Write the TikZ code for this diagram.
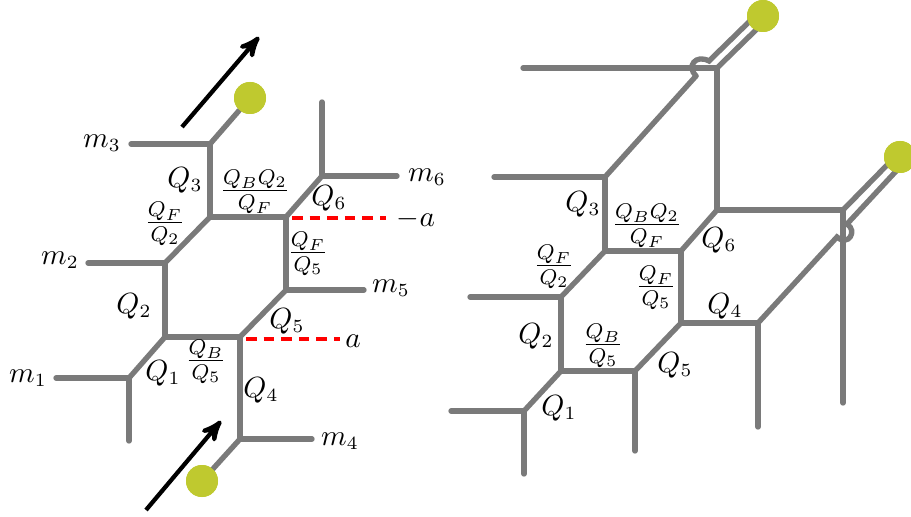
\documentclass[tikz,border=0pt]{standalone}
\usepackage{amsmath, amssymb}
\usepackage{tikz}
\usetikzlibrary{arrows}
\usepackage{xcolor}
\definecolor{branegray}{HTML}{7A7A7A}
\definecolor{ballgreen}{HTML}{BFC92F}
\tikzstyle{brane}=[line width=2pt,color=branegray,line cap=round]
\tikzstyle{cut}=[line width=1.4pt,color=red,dash pattern=on 4pt off 2.6pt]
\tikzstyle{motion}=[line width=1.6pt,black,-stealth']
\tikzstyle{ball}=[circle,fill=ballgreen,inner sep=0pt,minimum size=12pt]
\tikzstyle{lab}=[inner sep=0pt,font=\fontsize{10.5}{12}\selectfont]
\tikzstyle{fraclab}=[inner sep=0pt,font=\large]
\newcommand{\Qfrac}[2]{$\frac{#1}{#2}$}

\begin{document}
\begin{tikzpicture}[x=0.375pt,y=-0.375pt]
	\useasboundingbox (0,0) rectangle (911,517);
	% left web
	\coordinate (Lm1) at (56,378);
	\coordinate (La) at (129,378);
	\coordinate (Lad) at (129,441);
	\coordinate (Lb) at (165,337);
	\coordinate (Lc) at (165,263);
	\coordinate (Lm2) at (88,263);
	\coordinate (Ld) at (210,217);
	\coordinate (Le) at (210,144);
	\coordinate (Lm3) at (131,144);
	\coordinate (Lf) at (286,217);
	\coordinate (Lg) at (322,176);
	\coordinate (Lgu) at (322,102);
	\coordinate (Lm6) at (397,176);
	\coordinate (Lh) at (286,290);
	\coordinate (Lm5) at (364,290);
	\coordinate (Li) at (240,337);
	\coordinate (Lj) at (240,439);
	\coordinate (Lm4) at (312,439);
	\node[ball] (LballT) at (250,98) {};
	\node[ball] (LballB) at (202,481) {};
	\draw[brane] (Lm1) -- (La);
	\draw[brane] (Lad) -- (La);
	\draw[brane] (La) -- (Lb);
	\draw[brane] (Lb) -- (Lc);
	\draw[brane] (Lm2) -- (Lc);
	\draw[brane] (Lc) -- (Ld);
	\draw[brane] (Ld) -- (Le);
	\draw[brane] (Lm3) -- (Le);
	\draw[brane] (Le) -- (LballT);
	\draw[brane] (Ld) -- (Lf);
	\draw[brane] (Lf) -- (Lg);
	\draw[brane] (Lg) -- (Lgu);
	\draw[brane] (Lg) -- (Lm6);
	\draw[brane] (Lf) -- (Lh);
	\draw[brane] (Lh) -- (Lm5);
	\draw[brane] (Lh) -- (Li);
	\draw[brane] (Li) -- (Lb);
	\draw[brane] (Li) -- (Lj);
	\draw[brane] (Lj) -- (Lm4);
	\draw[brane] (Lj) -- (LballB);
	\node[ball] at (LballT) {};
	\node[ball] at (LballB) {};
	% mass cuts
	\coordinate (Lcut1) at (246,339);
	\coordinate (Lcut1e) at (340,339);
	\coordinate (Lcut2) at (292,218);
	\coordinate (Lcut2e) at (386,218);
	\draw[cut] (Lcut1) -- (Lcut1e);
	\draw[cut] (Lcut2) -- (Lcut2e);
	% arrows
	\coordinate (ArrTa) at (182,127);
	\coordinate (ArrTb) at (259,37);
	\coordinate (ArrBa) at (146,510);
	\coordinate (ArrBb) at (221,421);
	\draw[motion] (ArrTa) -- (ArrTb);
	\draw[motion] (ArrBa) -- (ArrBb);
	% left labels
	\node[lab] (m1) at (28,378) {$m_1$};
	\node[lab] (m2) at (60,260) {$m_2$};
	\node[lab] (m3) at (102,143) {$m_3$};
	\node[lab] (m4) at (340,441) {$m_4$};
	\node[lab] (m5) at (391,288) {$m_5$};
	\node[lab] (m6) at (427,177) {$m_6$};
	\node[lab] (ma) at (416,219) {$-a$};
	\node[lab] (pa) at (353,341) {$a$};
	\node[lab] (LQ3) at (185,180) {$Q_3$};
	\node[lab] (LQ2) at (134,306) {$Q_2$};
	\node[lab] (LQ1) at (163,373) {$Q_1$};
	\node[lab] (LQ4) at (261,390) {$Q_4$};
	\node[lab] (LQ5) at (287,321) {$Q_5$};
	\node[lab] (LQ6) at (329,198) {$Q_6$};
	\node[fraclab] (LFa) at (165,224) {\Qfrac{Q_F}{Q_2}};
	\node[fraclab] (LFb) at (255,192) {\Qfrac{Q_BQ_2}{Q_F}};
	\node[fraclab] (LFc) at (308,254) {\Qfrac{Q_F}{Q_5}};
	\node[fraclab] (LFd) at (206,362) {\Qfrac{Q_B}{Q_5}};
	% right web
	\coordinate (Rm1) at (451,411);
	\coordinate (Ra) at (524,411);
	\coordinate (Rad) at (524,474);
	\coordinate (Rb) at (561,371);
	\coordinate (Rc) at (561,297);
	\coordinate (Rm2) at (470,297);
	\coordinate (Rd) at (605,251);
	\coordinate (Re) at (605,177);
	\coordinate (Rm3) at (494,177);
	\coordinate (Rf) at (681,251);
	\coordinate (Rg) at (717,210);
	\coordinate (Rk) at (717,68);
	\coordinate (Rm6) at (523,68);
	\coordinate (Rn) at (843,210);
	\coordinate (Rnd) at (843,403);
	\coordinate (Rh) at (681,323);
	\coordinate (Ri) at (635,371);
	\coordinate (Rid) at (635,451);
	\coordinate (Rj) at (758,323);
	\coordinate (Rjd) at (758,427);
	\coordinate (RjumpTa) at (696,76);
	\coordinate (RjumpTb) at (709,61);
	\coordinate (RjumpBa) at (837,237);
	\coordinate (RjumpBb) at (847,224);
	\node[ball] (RballT) at (763,16) {};
	\node[ball] (RballB) at (900,157) {};
	\coordinate (RstrandTa) at (753,18);
	\coordinate (RstrandTb) at (760,26);
	\coordinate (RstrandBa) at (892,160);
	\coordinate (RstrandBb) at (899,168);
	\draw[brane] (Rm1) -- (Ra);
	\draw[brane] (Rad) -- (Ra);
	\draw[brane] (Ra) -- (Rb);
	\draw[brane] (Rb) -- (Rc);
	\draw[brane] (Rm2) -- (Rc);
	\draw[brane] (Rc) -- (Rd);
	\draw[brane] (Rd) -- (Re);
	\draw[brane] (Rm3) -- (Re);
	\draw[brane] (Re) -- (RjumpTa);
	\draw[brane] (Rd) -- (Rf);
	\draw[brane] (Rf) -- (Rg);
	\draw[brane] (Rg) -- (Rk);
	\draw[brane] (Rm6) -- (Rk);
	\draw[brane] (Rk) -- (RstrandTb);
	\draw[brane] (RjumpTa) .. controls (686,66) and (696,54) .. (RjumpTb) -- (RstrandTa);
	\draw[brane] (Rg) -- (Rn);
	\draw[brane] (Rn) -- (Rnd);
	\draw[brane] (Rn) -- (RstrandBa);
	\draw[brane] (RjumpBb) .. controls (858,231) and (848,247) .. (RjumpBa) -- (Rj);
	\draw[brane] (RjumpBb) -- (RstrandBb);
	\draw[brane] (Rb) -- (Ri);
	\draw[brane] (Ri) -- (Rid);
	\draw[brane] (Ri) -- (Rh);
	\draw[brane] (Rf) -- (Rh);
	\draw[brane] (Rh) -- (Rj);
	\draw[brane] (Rj) -- (Rjd);
	\node[ball] at (RballT) {};
	\node[ball] at (RballB) {};
	% right labels
	\node[lab] (RQ3) at (583,204) {$Q_3$};
	\node[lab] (RQ2) at (536,336) {$Q_2$};
	\node[lab] (RQ1) at (559,408) {$Q_1$};
	\node[lab] (RQ4) at (725,306) {$Q_4$};
	\node[lab] (RQ5) at (675,365) {$Q_5$};
	\node[lab] (RQ6) at (719,240) {$Q_6$};
	\node[fraclab] (RFa) at (554,267) {\Qfrac{Q_F}{Q_2}};
	\node[fraclab] (RFb) at (647,226) {\Qfrac{Q_BQ_2}{Q_F}};
	\node[fraclab] (RFc) at (656,288) {\Qfrac{Q_F}{Q_5}};
	\node[fraclab] (RFd) at (603,346) {\Qfrac{Q_B}{Q_5}};
\end{tikzpicture}
\end{document}
